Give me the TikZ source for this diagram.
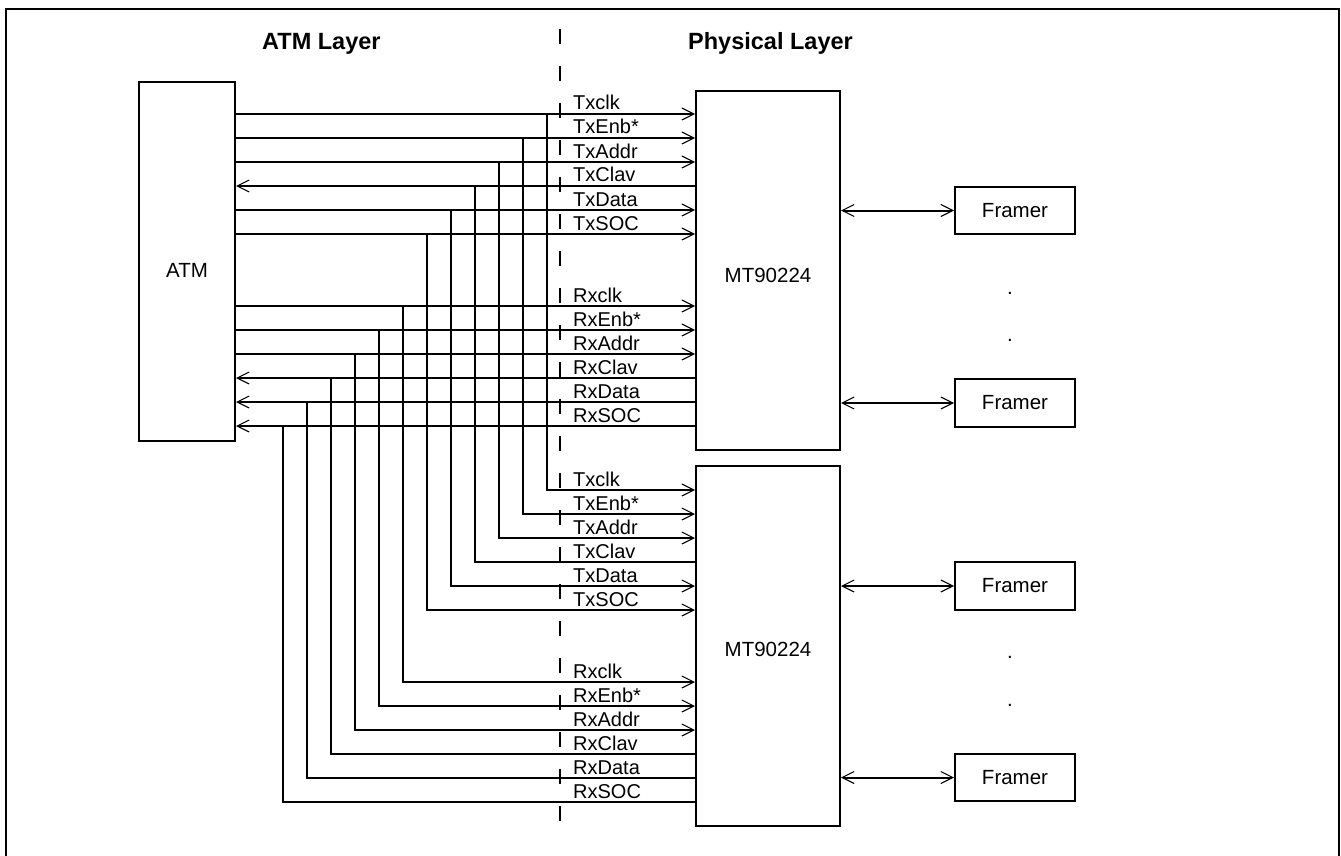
\documentclass[tikz,border=0pt]{standalone}
\usepackage{fontspec}
\setmainfont{Liberation Sans}
\usetikzlibrary{arrows.meta}
\begin{document}
\begin{tikzpicture}[x=1pt,y=-1pt,
  wire/.style={line width=2pt},
  barb/.tip={Straight Barb[length=12pt,width=12pt,line width=1.1pt]},
  tipend/.style={-barb},
  tipboth/.style={barb-barb},
  box/.style={draw,line width=2pt,inner sep=0pt,rectangle,font=\fontsize{20.5}{24}\selectfont},
  sig/.style={font=\fontsize{20}{22}\selectfont,anchor=base west,inner sep=0pt},
  txt/.style={font=\fontsize{20.5}{24}\selectfont,inner sep=0pt},
  head/.style={font=\fontsize{23.5}{26}\selectfont\bfseries,anchor=base west,inner sep=0pt}]
\useasboundingbox (0,0) rectangle (1341,856);
% outer frame
\draw[line width=2pt] (6,856) -- (6,9) -- (1339,9) -- (1339,856);
% headings
\node[head] (hatm) at (262,50) {ATM Layer};
\node[head] (hphy) at (688,50) {Physical Layer};
% layer divider
\coordinate (dtop) at (560,29);
\coordinate (dbot) at (560,830);
\draw[line width=1.6pt,dash pattern=on 15pt off 22pt] (dtop) -- (dbot);
% boxes
\node[box,minimum width=96pt,minimum height=359pt] (atm) at (187,261.5) {};
\node[txt] (atmlbl) at (187,270) {ATM};
\node[box,minimum width=144pt,minimum height=359pt] (mt1) at (768,270.5) {};
\node[txt] (mt1lbl) at (768,275) {MT90224};
\node[box,minimum width=144pt,minimum height=360pt] (mt2) at (768,646) {};
\node[txt] (mt2lbl) at (768,649) {MT90224};
\node[box,minimum width=120pt,minimum height=47.5pt] (f1) at (1015,210.5) {Framer};
\node[box,minimum width=120pt,minimum height=47.5pt] (f2) at (1015,403) {Framer};
\node[box,minimum width=120pt,minimum height=47.5pt] (f3) at (1015,586) {Framer};
\node[box,minimum width=120pt,minimum height=47.5pt] (f4) at (1015,777.5) {Framer};
% dots
\node[txt,anchor=base] (d1) at (1010,294) {.};
\node[txt,anchor=base] (d2) at (1010,341) {.};
\node[txt,anchor=base] (d3) at (1010,658) {.};
\node[txt,anchor=base] (d4) at (1010,706) {.};
% framer links
\draw[wire,tipboth] (mt1.east |- f1) -- (f1.west);
\draw[wire,tipboth] (mt1.east |- f2) -- (f2.west);
\draw[wire,tipboth] (mt2.east |- f3) -- (f3.west);
\draw[wire,tipboth] (mt2.east |- f4) -- (f4.west);
% signals from ATM to PHY
\foreach \lab/\k/\X/\Ya/\Yb in {Txclk/0/547/114/490, TxEnb*/1/523/138/514, TxAddr/2/499/162/538, TxData/4/451/210/586, TxSOC/5/427/234/610, Rxclk/6/403/306/682, RxEnb*/7/379/330/706, RxAddr/8/355/354/730}{
  \draw[wire,tipend] (atm.east |- 0,\Ya) -- (mt1.west |- 0,\Ya);
  \coordinate (j\k) at (\X,\Ya);
  \draw[wire,tipend] (j\k) |- (mt2.west |- 0,\Yb);
  \node[sig] (a\k) at (573,\Ya-4) {\lab};
  \node[sig] (b\k) at (573,\Yb-4) {\lab};
}
% signals from PHY to ATM
\foreach \lab/\k/\X/\Ya/\Yb in {TxClav/3/475/186/562, RxClav/9/331/378/754, RxData/10/307/402/778, RxSOC/11/283/426/802}{
  \draw[wire,tipend] (mt1.west |- 0,\Ya) -- (atm.east |- 0,\Ya);
  \coordinate (j\k) at (\X,\Ya);
  \draw[wire] (mt2.west |- 0,\Yb) -| (j\k);
  \node[sig] (a\k) at (573,\Ya-4) {\lab};
  \node[sig] (b\k) at (573,\Yb-4) {\lab};
}
\end{tikzpicture}
\end{document}
